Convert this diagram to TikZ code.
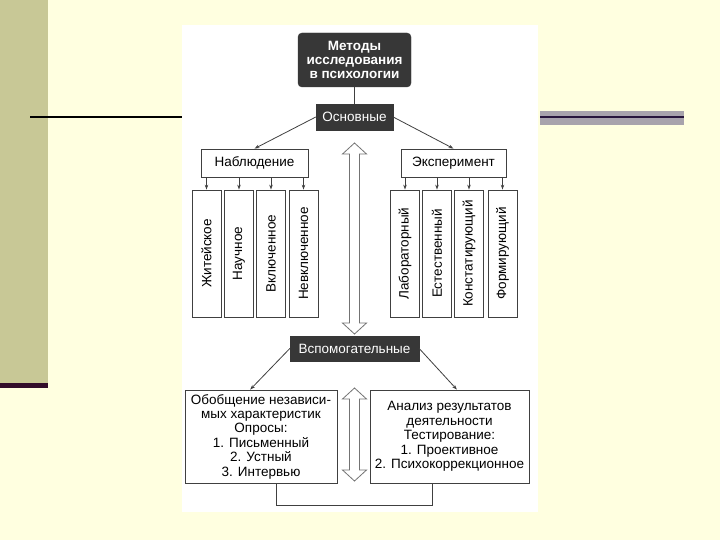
\documentclass[tikz,border=0pt]{standalone}
\usepackage{fontspec}
\setmainfont{Liberation Sans}
\usetikzlibrary{arrows.meta,positioning,calc}
\definecolor{slidebg}{RGB}{255,255,224}
\definecolor{stripcol}{RGB}{200,200,150}
\definecolor{stripdark}{RGB}{50,12,42}
\definecolor{bandgray}{RGB}{168,163,172}
\definecolor{banddark}{RGB}{40,22,60}
\definecolor{boxdark}{RGB}{55,55,55}
\newcommand{\hollowdbl}[2]{\draw[hollow] (#1) -- ++(12,11) -- ++(-7,0) -- ($(#2)+(5,-11)$) -- ++(7,0) -- (#2) -- ++(-12,-11) -- ++(7,0) -- ($(#1)+(-5,11)$) -- ++(-7,0) -- cycle;}
\begin{document}
\begin{tikzpicture}[x=1pt,y=-1pt,
	every node/.style={font=\fontsize{13.5}{14.4}\selectfont, inner sep=2pt},
	darkbox/.style={fill=boxdark, draw=boxdark, text=white},
	whitebox/.style={draw=black!75, fill=white, line width=0.8pt},
	tallbox/.style={whitebox, rotate=90, minimum width=127pt, minimum height=29pt},
	link/.style={draw=black!75, line width=0.8pt, -{Stealth[length=5pt,width=3.5pt]}},
	hollow/.style={draw=black!55, line width=0.8pt, fill=white}]
	% slide background
	\useasboundingbox (0,0) rectangle (720,540);
	\fill[slidebg] (0,0) rectangle (720,540);
	\fill[stripcol] (0,0) rectangle (48,383);
	\fill[stripdark] (0,383) rectangle (48,388);
	\draw[line width=2pt] (30,117) -- (182,117);
	\fill[bandgray] (540,111) rectangle (684,125);
	\draw[banddark, line width=2pt] (540,117) -- (684,117);
	\fill[white] (182,25) rectangle (538,512);

	\node (title) [darkbox, rounded corners=4pt, minimum width=113pt, minimum height=54pt, align=center, font=\fontsize{13.5}{14.4}\selectfont\bfseries] at (354.5,60) {Методы\\исследования\\в психологии};
	\node (osn) [darkbox, minimum width=77pt, minimum height=26pt] at (354.5,117) {Основные};
	\node (nabl) [whitebox, minimum width=107pt, minimum height=28pt] at (254.5,163) {Наблюдение};
	\node (eksp) [whitebox, minimum width=105pt, minimum height=28pt] at (453.5,163) {Эксперимент};

	\foreach \x/\t [count=\i] in {206.5/Житейское, 239/Научное, 271/Включенное, 303.5/Невключенное}
		\node (n\i) [tallbox] at (\x,253.5) {\t};
	\foreach \x/\t [count=\i] in {405/Лабораторный, 437/Естественный, 469/Констатирующий, 502.5/Формирующий}
		\node (e\i) [tallbox] at (\x,253.5) {\t};

	\node (vsp) [darkbox, minimum width=129pt, minimum height=25pt] at (354.5,348.5) {Вспомогательные};
	\node (lb) [whitebox, minimum width=152pt, minimum height=93pt, align=center] at (261,436.5) {Обобщение независи-\\мых характеристик\\Опросы:\\1. Письменный\\2. Устный\\3. Интервью};
	\node (rb) [whitebox, minimum width=159pt, minimum height=93pt, align=center] at (449.5,436.5) {Анализ результатов\\деятельности\\Тестирование:\\1. Проективное\\2. Психокоррекционное};

	\draw[draw=black!75, line width=0.8pt] (title) -- (osn);
	\draw[link] (osn.west) -- (nabl.north);
	\draw[link] (osn.east) -- (eksp.north);
	\foreach \i in {1,...,4} {
		\draw[link] (n\i.east |- nabl.south) -- (n\i.east);
		\draw[link] (e\i.east |- eksp.south) -- (e\i.east);
	}
	\draw[link] (vsp.west) -- (lb.103);
	\draw[link] (vsp.east) -- (rb.81);

	\coordinate (lbot) at ($(lb.south west)!0.6!(lb.south east)$);
	\coordinate (rbot) at ($(rb.south west)!0.39!(rb.south east)$);
	\draw[draw=black!75, line width=0.8pt] (lbot) -- ++(0,22) -| (rbot);

	\coordinate (upA) at (354.5,143);
	\coordinate (dnA) at (354.5,334);
	\coordinate (upB) at (354.5,388);
	\coordinate (dnB) at (354.5,481);
	\hollowdbl{upA}{dnA}
	\hollowdbl{upB}{dnB}
\end{tikzpicture}
\end{document}
